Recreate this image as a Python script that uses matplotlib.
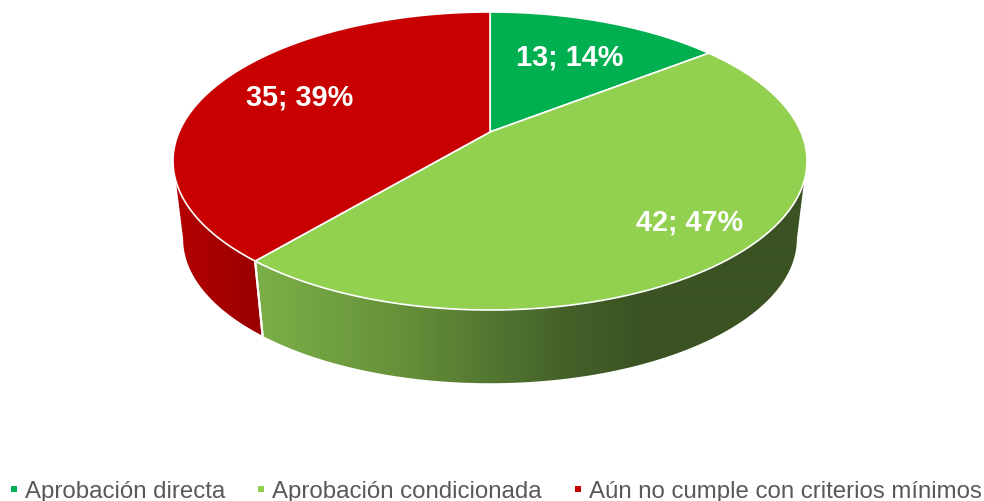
import numpy as np
import matplotlib
matplotlib.use("Agg")
import matplotlib.pyplot as plt
from matplotlib.transforms import Transform, Affine2D
from matplotlib.path import Path
from matplotlib.patches import PathPatch
from matplotlib.lines import Line2D
from matplotlib.colors import to_rgb

categories = ["Aprobación directa", "Aprobación condicionada", "Aún no cumple con criterios mínimos"]
values = [13, 42, 35]
percents = [14, 47, 39]
colors = ["#00B050", "#92D050", "#C80000"]

plt.rcParams["font.family"] = ["Liberation Sans", "DejaVu Sans"]

W, H = 984, 502
CX, CY = 490.0, 162.0
RY, APEX = 149.0, 29.0
K = APEX / RY
AX = 317.0 * np.sqrt(1 - K**2)


def project(x, y, scale=1.0, drop=0.0):
    d = 1 + K * y
    return CX + scale * AX * x / d, CY + drop - scale * (RY * y + APEX) / d


class Perspective(Transform):
    input_dims = output_dims = 2
    is_separable = False
    has_inverse = False

    def transform_non_affine(self, values):
        v = np.asarray(values, float)
        px, py = project(v[:, 0], v[:, 1])
        return np.column_stack([px, py])

    def transform_path_non_affine(self, path):
        # Flatten at a large scale so that the rims stay smooth after projection.
        poly = path.to_polygons(Affine2D().scale(3000), closed_only=False)[0] / 3000
        return Path(self.transform_non_affine(poly), closed=False)


fig = plt.figure(figsize=(W / 100, H / 100), dpi=100)
ax = fig.add_axes([0, 0, 1, 1])

BOT_SCALE, BOT_DROP = 0.968, 78.0
total = sum(values)
edges = 360.0 * np.cumsum([0] + values) / total  # clockwise from top


def wall(a_from, a_rim_end, a_bot_end, cmap_stops, zorder):
    """Side wall between the split angle and the silhouette of the disc."""
    rim = np.radians(np.linspace(a_from, a_rim_end, 160))
    bot = np.radians(np.linspace(a_bot_end, a_from, 160))
    tx, ty = project(np.sin(rim), np.cos(rim))
    bx, by = project(np.sin(bot), np.cos(bot), BOT_SCALE, BOT_DROP)
    verts = np.column_stack([np.r_[tx, bx], np.r_[ty, by]])
    patch = PathPatch(Path(np.vstack([verts, verts[:1]]), closed=True),
                      facecolor="none", edgecolor="none", transform=ax.transData)
    ax.add_patch(patch)
    grid = np.arange(W)
    sx = [s[0] for s in cmap_stops]
    rgb = np.array([to_rgb(s[1]) for s in cmap_stops])
    img = np.stack([np.interp(grid, sx, rgb[:, i]) for i in range(3)], axis=1)[None, :, :]
    im = ax.imshow(img, extent=(0, W, H, 0), aspect="auto", zorder=zorder, interpolation="bilinear")
    im.set_clip_path(patch)
    # White divider on the split line.
    ax.plot([tx[0], bx[-1]], [ty[0], by[-1]], color="white", lw=1.5, zorder=zorder + 0.5,
            solid_capstyle="butt")


split = edges[2]
wall(split, 108.7, 101.2,
     [(262, "#7BAE47"), (400, "#66913A"), (560, "#45622A"), (640, "#3B5323"), (984, "#3B5323")], 1)
wall(split, 251.3, 258.8, [(175, "#B40000"), (263, "#980000")], 1)

wedges, _ = ax.pie(values, colors=colors, startangle=90, counterclock=False,
                   wedgeprops=dict(edgecolor="white", linewidth=1.2))
persp = Perspective()
for w in wedges:
    w.set_transform(persp + ax.transData)
    w.set_zorder(3)
    w.set_joinstyle("round")

ax.set_aspect("auto")
ax.set_xlim(0, W)
ax.set_ylim(H, 0)
ax.axis("off")

label_xy = [(570, 58), (690, 223), (300, 98)]
for (lx, ly), v, p in zip(label_xy, values, percents):
    ax.text(lx, ly, f"{v}; {p}%", color="white", fontsize=20.8, fontweight="bold",
            ha="center", va="center", zorder=5)

handles = [Line2D([], [], linestyle="none", marker="s", markersize=5, color=c, markeredgewidth=0)
           for c in colors]
ax.legend(handles, categories, ncols=3, loc="lower left", bbox_to_anchor=(8 / W, -0.002),
          frameon=False, fontsize=17.3, labelcolor="#595959", handlelength=0.5,
          handletextpad=0.21, columnspacing=1.25, borderpad=0, borderaxespad=0)

fig.savefig("out.png", dpi=100)
